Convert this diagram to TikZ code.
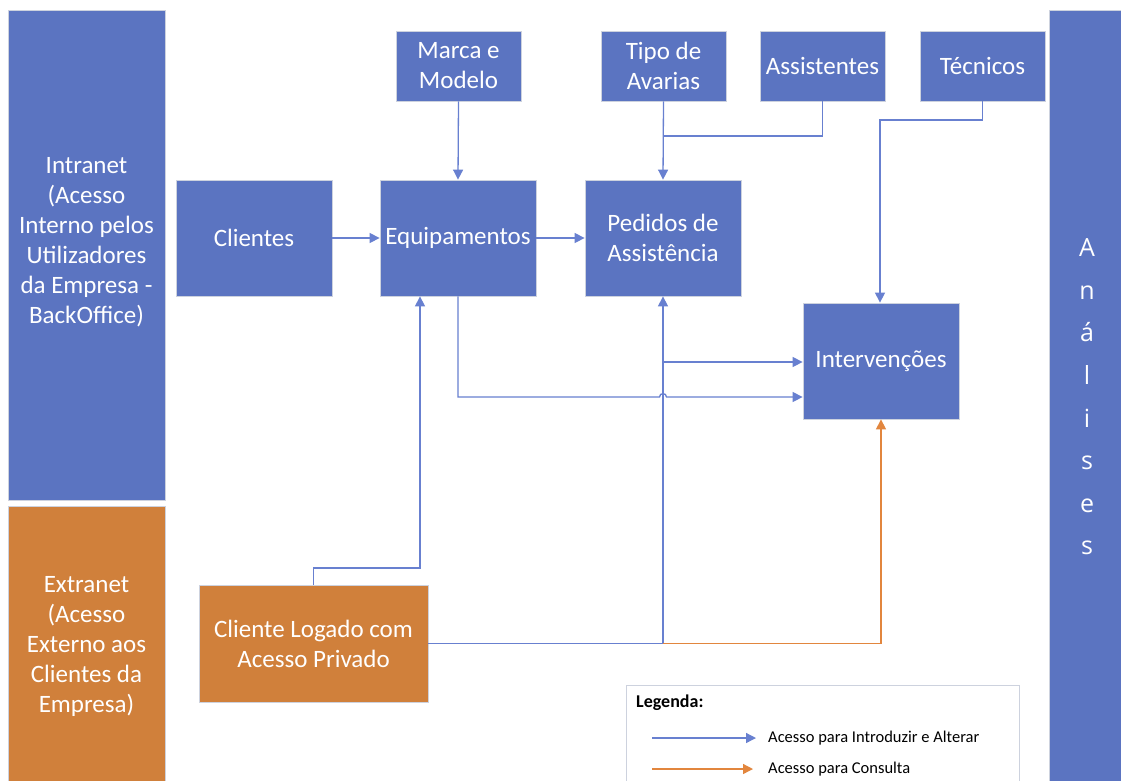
\documentclass[tikz,border=0pt]{standalone}
\usepackage{fontspec}
\setmainfont{Carlito}
\newfontfamily\analfont{Open Sans}
\usetikzlibrary{arrows.meta,calc}
\definecolor{boxblue}{RGB}{91,116,193}
\definecolor{boxorange}{RGB}{208,128,59}
\definecolor{lineblue}{RGB}{104,128,208}
\definecolor{lineorange}{RGB}{226,134,62}
\definecolor{edgegray}{RGB}{205,210,222}
\tikzset{
  bbox/.style={draw=edgegray, line width=0.8pt, fill=boxblue, text=white, align=center,
    inner sep=0pt, font=\fontsize{25}{30}\selectfont},
  obox/.style={bbox, fill=boxorange},
  bl/.style={draw=lineblue, line width=1.3pt, -{Triangle[length=10pt,width=10pt]}},
  blp/.style={draw=lineblue, line width=1.3pt},
  ol/.style={draw=lineorange, line width=1.3pt, -{Triangle[length=10pt,width=10pt]}},
}
\begin{document}
\begin{tikzpicture}[x=1pt,y=-1pt]
\useasboundingbox (0,0) rectangle (1121,780);
\fill[white] (0,0) rectangle (1121,780);
% side bars
\node[bbox, minimum width=157pt, minimum height=490pt] (intranet) at (86.5,255) {};
\node[text=white, align=center, font=\fontsize{25}{30}\selectfont] (intranettxt) at (86.5,242)
  {Intranet\\(Acesso\\Interno pelos\\Utilizadores\\da Empresa -\\BackOffice)};
\node[obox, minimum width=157pt, minimum height=290pt] (extranet) at (86.5,651) {};
\node[text=white, align=center, font=\fontsize{25}{30}\selectfont] (extranettxt) at (86.5,646)
  {Extranet\\(Acesso\\Externo aos\\Clientes da\\Empresa)};
\node[bbox, minimum width=74pt, minimum height=790pt] (analises) at (1086,405) {};
\node[text=white, align=center, font=\analfont\fontsize{25}{42.6}\selectfont] (analisestxt) at (1087,397)
  {A\\n\\á\\l\\i\\s\\e\\s};
% top boxes
\node[bbox, minimum width=125pt, minimum height=70pt] (marca) at (458.5,66) {Marca e\\Modelo};
\node[bbox, minimum width=125pt, minimum height=70pt] (tipo) at (663.5,66) {Tipo de\\Avarias};
\node[bbox, minimum width=125pt, minimum height=70pt] (assist) at (822.5,66) {Assistentes};
\node[bbox, minimum width=125pt, minimum height=70pt] (tec) at (982.5,66) {Técnicos};
% middle boxes
\node[bbox, minimum width=156pt, minimum height=116pt] (clientes) at (254,238) {Clientes};
\node[bbox, minimum width=156pt, minimum height=116pt] (equip) at (458,238) {Equipamentos};
\node[bbox, minimum width=156pt, minimum height=116pt] (pedidos) at (663,238) {Pedidos de\\Assistência};
\node[bbox, minimum width=156pt, minimum height=116pt] (interv) at (881,361) {Intervenções};
\node[obox, minimum width=229pt, minimum height=117pt] (logado) at (313.5,643.5) {Cliente Logado com\\Acesso Privado};
% junction coordinates
\coordinate (j1) at (663,136);
\coordinate (jt) at (880,120);
\coordinate (jm) at (663,362);
\coordinate (jh) at (458,397);
\coordinate (jb) at (663,643.5);
\coordinate (ja) at (420,568);
% connectors
\draw[bl] (marca.south) -- (equip.north);
\draw[bl] (tipo.south) -- (pedidos.north);
\draw[blp] (assist.south) |- (j1);
\draw[bl] (tec.south) |- (jt) -- (interv.north -| jt);
\draw[bl] (clientes.east) -- (equip.west);
\draw[bl] (equip.east) -- (pedidos.west);
\draw[bl] (equip.south) -- (jh) -- (659.5,397) .. controls (659.5,392.5) and (666.5,392.5) .. (666.5,397) -- (interv.west |- jh);
\draw[bl] (logado.east) -- (jb) -- (pedidos.south);
\draw[bl] (jm) -- (interv.west |- jm);
\draw[bl] (logado.north) |- (ja) -- (equip.south -| ja);
\draw[ol] (jb) -| (interv.south);
% legend
\node[draw=edgegray, line width=1pt, fill=white, minimum width=393pt, minimum height=110pt, inner sep=0pt] (legend) at (822.5,740) {};
\node[anchor=west, font=\fontsize{18}{20}\bfseries\selectfont, inner sep=0pt] (legtitle) at (636,703) {Legenda:};
\coordinate (lb1) at (652,738);
\coordinate (lb2) at (756,738);
\coordinate (lo1) at (652,769);
\coordinate (lo2) at (753,769);
\draw[bl] (lb1) -- (lb2);
\draw[ol] (lo1) -- (lo2);
\node[anchor=west, font=\fontsize{16.5}{19}\selectfont, inner sep=0pt] (legb) at (768,738) {Acesso para Introduzir e Alterar};
\node[anchor=west, font=\fontsize{16.5}{19}\selectfont, inner sep=0pt] (lego) at (768,769) {Acesso para Consulta};
\end{tikzpicture}
\end{document}
